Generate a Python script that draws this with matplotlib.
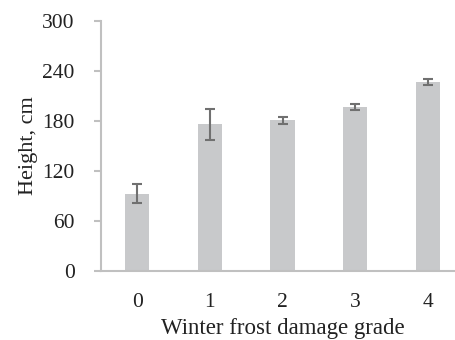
import matplotlib
matplotlib.use("Agg")
import matplotlib.pyplot as plt

# winter frost damage grade vs. plant height
grades = ["0", "1", "2", "3", "4"]
height = [93, 176, 181, 197, 227]
height_err = [11.5, 19, 4, 3.5, 4]

plt.rcParams['font.family'] = ['Liberation Serif', 'DejaVu Serif']

fig = plt.figure(figsize=(4.55, 3.40), dpi=100)
ax = fig.add_axes([101 / 455, 1 - 271 / 340, 363 / 455, 250 / 340])

x = range(len(grades))
ax.bar(x, height, width=1 / 3, color='#c8c9cb', zorder=2)
ax.errorbar(x, height, yerr=height_err, fmt='none', ecolor='#707070',
            elinewidth=1.5, capsize=3.5, capthick=1.5, zorder=3)

ax.set_xlim(-0.5, len(grades) - 0.5)
ax.set_ylim(0, 300)
ax.set_yticks(range(0, 301, 60))
ax.set_xticks(list(x))
ax.set_xticklabels(grades)

for side in ['top', 'right']:
    ax.spines[side].set_visible(False)
for side in ['left', 'bottom']:
    ax.spines[side].set_color('#c0c0c0')
    ax.spines[side].set_linewidth(1.5)

ax.tick_params(axis='y', length=5, width=1.5, color='#c0c0c0',
               labelsize=15.5, labelcolor='#222222', pad=14)
ax.tick_params(axis='x', length=0, labelsize=15.5, labelcolor='#222222', pad=15.5)

ax.set_ylabel('Height, cm', fontsize=16, color='#222222', labelpad=3)
ax.set_xlabel('Winter frost damage grade', fontsize=16.5, color='#222222', labelpad=4.5)

fig.savefig('out.png', dpi=100)
